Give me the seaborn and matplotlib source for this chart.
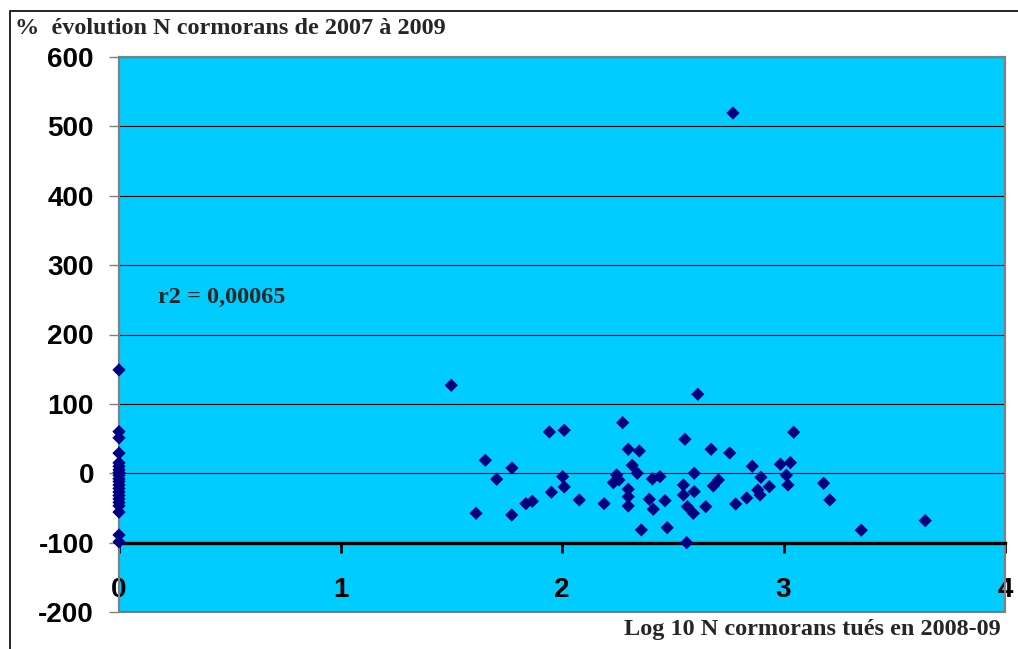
import matplotlib
matplotlib.use("Agg")
import matplotlib.pyplot as plt
import seaborn as sns
import pandas as pd
from matplotlib.patches import Rectangle

# ---- data ----
x_zero = [0.0] * 21
y_zero = [149, 60, 51, 29, 15, 10, 5, 1, -3, -8, -12, -17, -22, -27, -32, -37,
          -42, -47, -56, -89, -99]

x_kill = [1.500, 1.612, 1.654, 1.705, 1.774, 1.773, 1.837, 1.866, 1.943, 1.952,
          2.010, 2.003, 2.010, 2.078, 2.190, 2.247, 2.232, 2.257, 2.274, 2.299,
          2.349, 2.317, 2.340, 2.299, 2.299, 2.299, 2.358, 2.408, 2.442, 2.394,
          2.412, 2.465, 2.475, 2.555, 2.613, 2.673, 2.757, 2.597, 2.548, 2.548,
          2.597, 2.683, 2.706, 2.566, 2.593, 2.649, 2.563, 2.772, 2.859, 2.898,
          2.884, 2.894, 2.936, 2.784, 2.834, 2.986, 3.031, 3.046, 3.013, 3.020,
          3.181, 3.209, 3.351, 3.640]
y_kill = [126.8, -57.7, 18.7, -8.6, 7.6, -60.1, -43.8, -40.4, 59.5, -27.4,
          62.0, -4.9, -19.7, -38.5, -43.8, -2.4, -13.5, -9.7, 72.9, 34.6,
          32.1, 11.5, 0.0, -23.0, -33.7, -47.1, -81.7, -8.2, -4.9, -37.5,
          -51.9, -39.5, -78.4, 49.0, 113.9, 34.6, 29.3, 0.0, -16.9, -31.3,
          -26.5, -18.3, -9.7, -48.1, -57.7, -48.1, -100.0, 519.3, 10.1, -5.8,
          -24.1, -31.3, -19.3, -44.3, -35.6, 13.0, 15.3, 59.1, -2.9, -16.9,
          -14.4, -38.5, -82.1, -68.3]

x_ticks = [0, 1, 2, 3, 4]
y_ticks = [-200, -100, 0, 100, 200, 300, 400, 500, 600]

title_text = "%  évolution N cormorans de 2007 à 2009"
xlabel_text = "Log 10 N cormorans tués en 2008-09"
r2_text = "r2 = 0,00065"

df = pd.DataFrame({"x": x_zero + x_kill, "y": y_zero + y_kill})

# ---- style ----
sns.set_theme(style="white")
plt.rcParams["font.family"] = ["Liberation Sans", "DejaVu Sans"]

fig = plt.figure(figsize=(10.18, 6.49), dpi=100)
ax = fig.add_axes([119 / 1018, 1 - 612 / 649, (1005 - 119) / 1018, (612 - 57) / 649])

ax.set_facecolor("#00CCFF")
ax.patch.set_edgecolor("#808080")
ax.patch.set_linewidth(1.5)

sns.scatterplot(data=df, x="x", y="y", ax=ax, marker="D", s=46,
                color="#000080", edgecolor="none", linewidth=0,
                clip_on=False, zorder=5, legend=False)

ax.set_xlim(0, 4)
ax.set_ylim(-200, 600)
ax.set_xticks(x_ticks)
ax.set_yticks(y_ticks)
ax.set_xticklabels([str(v) for v in x_ticks])
ax.set_yticklabels([str(v) for v in y_ticks])
ax.set_xlabel("")
ax.set_ylabel("")

ax.yaxis.grid(True, color="black", linewidth=0.8, zorder=1)
ax.xaxis.grid(False)
ax.set_axisbelow(True)

for side in ["left", "top", "right"]:
    ax.spines[side].set_color("#808080")
    ax.spines[side].set_linewidth(1.5)
ax.spines["bottom"].set_position(("data", -100))
ax.spines["bottom"].set_color("black")
ax.spines["bottom"].set_linewidth(2.4)
ax.spines["bottom"].set_zorder(3)

ax.tick_params(axis="x", direction="out", length=7, width=2, color="black",
               pad=18, labelsize=20, bottom=True)
ax.tick_params(axis="y", direction="out", length=7, width=1, color="#808080",
               pad=11, labelsize=20, left=True)
for lab in ax.get_xticklabels() + ax.get_yticklabels():
    lab.set_fontweight("bold")
    lab.set_color("black")

serif = ["Liberation Serif", "DejaVu Serif"]
ax.text(0.178, 254, r2_text, fontsize=17.5, fontweight="bold",
        family=serif, va="center", ha="left")

fig.text(15 / 1018, 1 - 29 / 649, title_text, fontsize=17.5, fontweight="bold",
         family=serif, va="center", ha="left")
fig.text(1001 / 1018, 1 - 629 / 649, xlabel_text, fontsize=17.5, fontweight="bold",
         family=serif, va="center", ha="right")

# outer chart border
fig.add_artist(Rectangle((10 / 1018, -0.1), 1.2, 1 - 11 / 649 + 0.1,
                         transform=fig.transFigure, fill=False,
                         edgecolor="black", linewidth=1.2))

fig.savefig("out.png", dpi=100)
